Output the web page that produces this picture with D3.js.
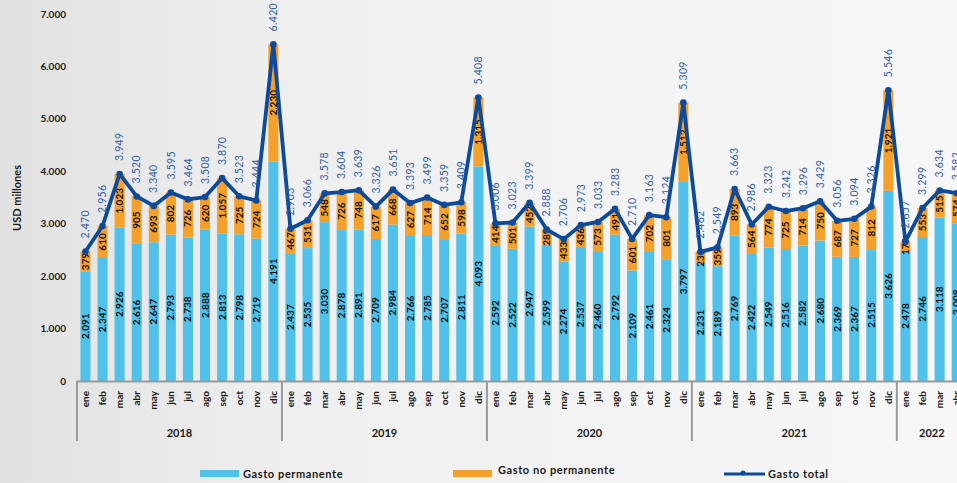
<!DOCTYPE html>
<html>
<head>
<meta charset="utf-8">
<script src="https://cdn.jsdelivr.net/npm/d3@7"></script>
<style>
  html, body { margin: 0; padding: 0; }
  body { width: 957px; height: 483px; overflow: hidden; }
  svg { display: block; font-family: Lato, "Open Sans", sans-serif; }
</style>
</head>
<body>
<script>
// months shown per year (2022 is cut by the right edge)
var years = ["2018", "2019", "2020", "2021", "2022"];
var monthNames = ["ene","feb","mar","abr","may","jun","jul","ago","sep","oct","nov","dic"];
var monthsPerYear = [12, 12, 12, 12, 4];

var permanente = [
  2091, 2347, 2926, 2616, 2647, 2793, 2738, 2888, 2813, 2798, 2719, 4191,
  2437, 2535, 3030, 2878, 2891, 2709, 2984, 2766, 2785, 2707, 2811, 4093,
  2592, 2522, 2947, 2599, 2274, 2537, 2460, 2792, 2109, 2461, 2324, 3797,
  2231, 2189, 2769, 2422, 2549, 2516, 2582, 2680, 2369, 2367, 2515, 3626,
  2478, 2746, 3118, 3008
];
var noPermanente = [
  379, 610, 1023, 905, 693, 802, 726, 620, 1057, 725, 724, 2230,
  467, 531, 548, 726, 748, 617, 668, 627, 714, 652, 598, 1315,
  414, 501, 452, 289, 433, 436, 573, 491, 601, 702, 801, 1512,
  231, 359, 893, 564, 774, 725, 714, 750, 687, 727, 812, 1921,
  179, 553, 515, 574
];
var total = [
  2470, 2956, 3949, 3520, 3340, 3595, 3464, 3508, 3870, 3523, 3444, 6420,
  2903, 3066, 3578, 3604, 3639, 3326, 3651, 3393, 3499, 3359, 3409, 5408,
  3006, 3023, 3399, 2888, 2706, 2973, 3033, 3283, 2710, 3163, 3124, 5309,
  2462, 2549, 3663, 2986, 3323, 3242, 3296, 3429, 3056, 3094, 3326, 5546,
  2657, 3299, 3634, 3582
];
var yTicks = [0, 1000, 2000, 3000, 4000, 5000, 6000, 7000];

var W = 957, H = 483;
var x0 = 77, monthW = 17.08, zeroY = 381, topY = 14;

// build month rows
var data = [];
years.forEach(function(yr, yi) {
  for (var m = 0; m < monthsPerYear[yi]; m++) {
    var i = data.length;
    data.push({key: yr + "-" + m, year: yr, mes: monthNames[m],
      perm: permanente[i], noperm: noPermanente[i], total: total[i]});
  }
});

var fmt = function(v) { return d3.format(",")(v).replace(/,/g, "."); };

var x = d3.scaleBand()
  .domain(data.map(function(d) { return d.key; }))
  .range([x0, x0 + monthW * data.length])
  .paddingInner(0.41).paddingOuter(0.2);

var y = d3.scaleLinear().domain([0, 7000]).range([zeroY, topY]);

var svg = d3.select("body").append("svg")
  .attr("width", W).attr("height", H);

var grad = svg.append("defs").append("linearGradient")
  .attr("id", "bg").attr("x1", "0").attr("x2", "1").attr("y1", "0").attr("y2", "0");
grad.append("stop").attr("offset", "0").attr("stop-color", "#e1e1e1");
grad.append("stop").attr("offset", "0.3").attr("stop-color", "#efefef");
grad.append("stop").attr("offset", "1").attr("stop-color", "#f7f7f7");
svg.append("rect").attr("width", W).attr("height", H).attr("fill", "url(#bg)");

var cx = function(d) { return x(d.key) + x.bandwidth() / 2; };

// y axis labels
svg.append("g").selectAll("text")
  .data(yTicks).enter().append("text")
  .attr("x", 66).attr("y", function(d) { return y(d); })
  .attr("dy", "0.35em")
  .attr("text-anchor", "end")
  .attr("font-size", 10).attr("font-weight", "bold").attr("fill", "#1a1a1a")
  .text(function(d) { return fmt(d); });

svg.append("text")
  .attr("transform", "translate(21,198) rotate(-90)")
  .attr("text-anchor", "middle")
  .attr("font-size", 11).attr("font-weight", "bold").attr("fill", "#1a1a1a")
  .text("USD millones");

// stacked bars
var bars = svg.append("g");
bars.selectAll("rect.perm")
  .data(data).enter().append("rect")
  .attr("class", "perm")
  .attr("x", function(d) { return x(d.key); })
  .attr("width", x.bandwidth())
  .attr("y", function(d) { return y(d.perm); })
  .attr("height", function(d) { return zeroY - y(d.perm); })
  .attr("fill", "#4fc1ea");

bars.selectAll("rect.noperm")
  .data(data).enter().append("rect")
  .attr("class", "noperm")
  .attr("x", function(d) { return x(d.key); })
  .attr("width", x.bandwidth())
  .attr("y", function(d) { return y(d.perm + d.noperm); })
  .attr("height", function(d) { return y(d.perm) - y(d.perm + d.noperm); })
  .attr("fill", "#f5a02b");

// segment labels
bars.selectAll("text.lperm")
  .data(data).enter().append("text")
  .attr("transform", function(d) {
    return "translate(" + cx(d) + "," + (y(d.perm / 2)) + ") rotate(-90)";
  })
  .attr("text-anchor", "middle").attr("dy", "0.35em")
  .attr("font-size", 10).attr("font-weight", "bold").attr("fill", "#111")
  .text(function(d) { return fmt(d.perm); });

bars.selectAll("text.lnoperm")
  .data(data).enter().append("text")
  .attr("transform", function(d) {
    return "translate(" + cx(d) + "," + (y(d.perm + d.noperm / 2)) + ") rotate(-90)";
  })
  .attr("text-anchor", "middle").attr("dy", "0.35em")
  .attr("font-size", 10).attr("font-weight", "bold").attr("fill", "#111")
  .text(function(d) { return fmt(d.noperm); });

// total line
var line = d3.line()
  .x(cx)
  .y(function(d) { return y(d.total); });

svg.append("path")
  .datum(data)
  .attr("d", line)
  .attr("fill", "none")
  .attr("stroke", "#0d4a9c")
  .attr("stroke-width", 3.8)
  .attr("stroke-linejoin", "round");

svg.append("g").selectAll("circle")
  .data(data).enter().append("circle")
  .attr("cx", cx).attr("cy", function(d) { return y(d.total); })
  .attr("r", 3.3).attr("fill", "#0d4a9c");

svg.append("g").selectAll("text")
  .data(data).enter().append("text")
  .attr("transform", function(d) {
    return "translate(" + cx(d) + "," + (y(d.total) - 13) + ") rotate(-90)";
  })
  .attr("dy", "0.35em")
  .attr("font-size", 10.5).attr("letter-spacing", 0.3).attr("fill", "#2f5fa8")
  .text(function(d) { return fmt(d.total); });

// x axis
var axis = svg.append("g");
axis.append("line")
  .attr("x1", x0).attr("x2", W).attr("y1", zeroY + 0.5).attr("y2", zeroY + 0.5)
  .attr("stroke", "#9a9a9a").attr("stroke-width", 2);

var start = 0;
years.forEach(function(yr, yi) {
  var xs = x0 + start * monthW;
  axis.append("line")
    .attr("x1", xs).attr("x2", xs).attr("y1", zeroY).attr("y2", 441)
    .attr("stroke", "#9a9a9a").attr("stroke-width", 2);
  axis.append("text")
    .attr("x", yi < 4 ? xs + 6 * monthW : xs + 35)
    .attr("y", 437)
    .attr("text-anchor", "middle")
    .attr("font-size", 11).attr("font-weight", "bold").attr("fill", "#1a1a1a")
    .text(yr);
  start += monthsPerYear[yi];
});

axis.selectAll("text.mes")
  .data(data).enter().append("text")
  .attr("class", "mes")
  .attr("transform", function(d) { return "translate(" + cx(d) + ",391) rotate(-90)"; })
  .attr("text-anchor", "end").attr("dy", "0.35em")
  .attr("font-size", 10).attr("font-weight", "bold").attr("fill", "#1a1a1a")
  .text(function(d) { return d.mes; });

// legend
var legend = svg.append("g").attr("font-size", 11).attr("font-weight", "bold").attr("fill", "#1a1a1a");
legend.append("rect").attr("x", 200).attr("y", 470).attr("width", 39).attr("height", 7).attr("fill", "#4fc1ea");
legend.append("text").attr("x", 243).attr("y", 474).attr("dy", "0.35em").attr("letter-spacing", 0.6).text("Gasto permanente");
legend.append("rect").attr("x", 453).attr("y", 470).attr("width", 39).attr("height", 7).attr("fill", "#f5a02b");
legend.append("text").attr("x", 498).attr("y", 470).attr("dy", "0.35em").attr("letter-spacing", 0.6).text("Gasto no permanente");
legend.append("line").attr("x1", 724).attr("x2", 765).attr("y1", 474).attr("y2", 474)
  .attr("stroke", "#0d4a9c").attr("stroke-width", 3);
legend.append("circle").attr("cx", 743).attr("cy", 473).attr("r", 2.5).attr("fill", "#0d4a9c");
legend.append("text").attr("x", 768).attr("y", 474).attr("dy", "0.35em").attr("letter-spacing", 0.6).text("Gasto total");
</script>
</body>
</html>
